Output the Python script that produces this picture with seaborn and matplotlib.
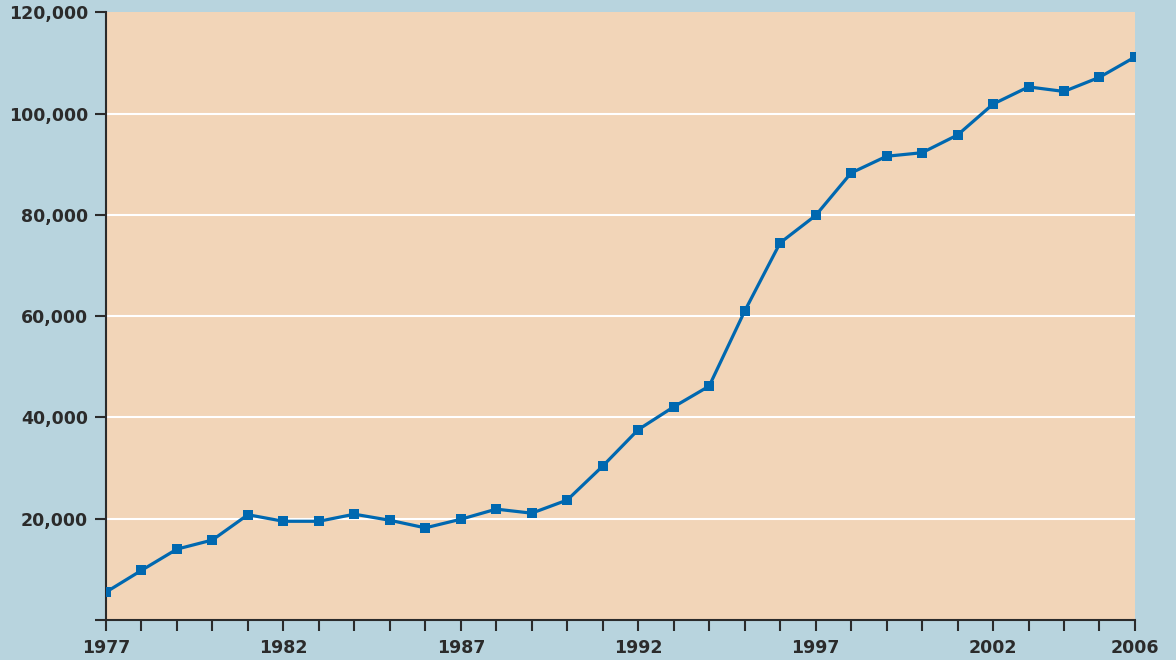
import numpy as np
import pandas as pd
import matplotlib
import matplotlib.pyplot as plt
import seaborn as sns
from matplotlib.ticker import FuncFormatter

matplotlib.use('Agg')

# 数据
years = list(range(1977, 2007))
values = [5500, 9800, 14000, 15800, 20800, 19500, 19500, 20900, 19700, 18200,
          19900, 21900, 21100, 23700, 30400, 37600, 42100, 46200, 61000, 74500,
          79900, 88300, 91600, 92300, 95800, 101900, 105300, 104400, 107200, 111200]
label_years = [1977, 1982, 1987, 1992, 1997, 2002, 2006]
y_ticks = [0, 20000, 40000, 60000, 80000, 100000, 120000]

BG = "#b8d4de"
PANEL = "#f2d5b8"
LINE = "#0068b0"
DARK = "#2b2b2b"

sns.set_style("white")
plt.rcParams['font.family'] = ['DejaVu Sans']

df = pd.DataFrame({"year": years, "value": values})

fig = plt.figure(figsize=(11.76, 6.6), dpi=100, facecolor=BG)
ax = fig.add_axes([0.0901, 0.0606, 0.8750, 0.9205])
ax.set_facecolor(PANEL)

# 白色网格线
for yv in y_ticks[1:-1]:
    ax.axhline(yv, color="white", linewidth=1.5, zorder=1)

sns.lineplot(data=df, x="year", y="value", ax=ax, color=LINE, linewidth=2.3,
             marker="s", markersize=7.5, markeredgewidth=0, zorder=3)

ax.set_xlim(1977, 2006)
ax.set_ylim(0, 120000)
ax.set_xticks(years)
ax.set_xticklabels([str(y) if y in label_years else "" for y in years])
ax.set_yticks(y_ticks)
ax.yaxis.set_major_formatter(FuncFormatter(lambda v, p: "" if v == 0 else f"{int(v):,}"))
ax.set_xlabel("")
ax.set_ylabel("")

for s in ["top", "right"]:
    ax.spines[s].set_visible(False)
for s in ["left", "bottom"]:
    ax.spines[s].set_color(DARK)
    ax.spines[s].set_linewidth(1.5)

ax.tick_params(axis="both", which="major", direction="out", length=8, width=1.5,
               bottom=True, left=True, color=DARK, labelcolor=DARK, labelsize=12.5)
ax.tick_params(axis="x", pad=6)
ax.tick_params(axis="y", pad=5)
for lab in ax.get_xticklabels() + ax.get_yticklabels():
    lab.set_fontweight("bold")

fig.savefig("out.png", dpi=100, facecolor=BG)
plt.close()
